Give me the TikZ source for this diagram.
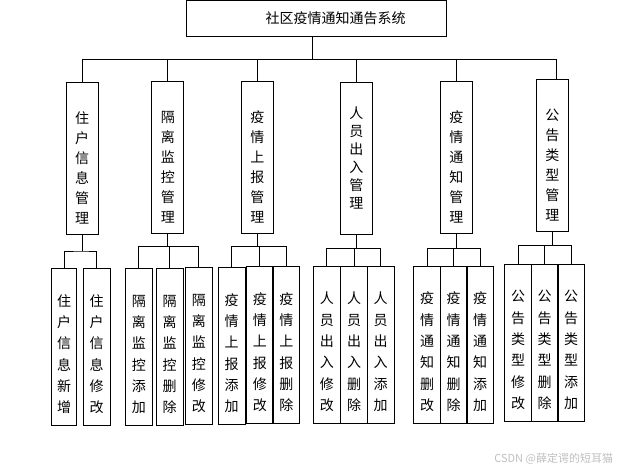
\documentclass[tikz,border=0pt]{standalone}
\usepackage{fontspec}
\setmainfont{Noto Sans CJK SC}
\begin{document}
\begin{tikzpicture}[x=1pt,y=-1pt,inner sep=0pt,outer sep=0pt,line width=1pt,
sysbox/.style={draw,rectangle,minimum width=260pt,minimum height=36pt,font=\fontsize{14}{16}\selectfont},
modblock/.style={draw,rectangle,anchor=north,align=center,minimum width=32pt,minimum height=152pt,
  font=\fontsize{14}{20}\selectfont},
leafblock/.style={draw,rectangle,anchor=north,align=center,minimum width=27pt,minimum height=157pt,
  font=\fontsize{14}{21.3}\selectfont}]

\useasboundingbox (0,0) rectangle (618,471);

\draw (316,18.5) node[sysbox] (sys) {\hspace*{39pt}社区疫情通知通告系统};

% module boxes, text set a little low as in the original
\draw (82,82) node[modblock] (m1) {\mbox{}\\[12pt]住\\户\\信\\息\\管\\理};
\draw (167.8,81.3) node[modblock] (m2) {\mbox{}\\[12pt]隔\\离\\监\\控\\管\\理};
\draw (257.3,81.3) node[modblock] (m3) {\mbox{}\\[12pt]疫\\情\\上\\报\\管\\理};
\draw (356.3,82.3) node[modblock,font=\fontsize{14}{18}\selectfont] (m4) {人\\员\\出\\入\\管\\理};
\draw (456.3,81.3) node[modblock] (m5) {\mbox{}\\[12pt]疫\\情\\通\\知\\管\\理};
\draw (552.3,79.3) node[modblock] (m6) {\mbox{}\\[12pt]公\\告\\类\\型\\管\\理};

\draw (64,268.3) node[leafblock,minimum width=25.4pt] (l1a) {\mbox{}\\[5pt]住\\户\\信\\息\\新\\增};
\draw (96.5,268.3) node[leafblock] (l1b) {\mbox{}\\[5pt]住\\户\\信\\息\\修\\改};
\draw (138.8,268.3) node[leafblock] (l2a) {\mbox{}\\[5pt]隔\\离\\监\\控\\添\\加};
\draw (169.5,268.3) node[leafblock] (l2b) {\mbox{}\\[5pt]隔\\离\\监\\控\\删\\除};
\draw (198.8,267.3) node[leafblock] (l2c) {\mbox{}\\[5pt]隔\\离\\监\\控\\修\\改};
\draw (231.5,267.3) node[leafblock] (l3a) {\mbox{}\\[5pt]疫\\情\\上\\报\\添\\加};
\draw (259.8,266.3) node[leafblock] (l3b) {\mbox{}\\[5pt]疫\\情\\上\\报\\修\\改};
\draw (286.3,266.3) node[leafblock] (l3c) {\mbox{}\\[5pt]疫\\情\\上\\报\\删\\除};
\draw (326.8,266) node[leafblock] (l4a) {\mbox{}\\[5pt]人\\员\\出\\入\\修\\改};
\draw (354,266) node[leafblock] (l4b) {\mbox{}\\[5pt]人\\员\\出\\入\\删\\除};
\draw (380.5,266) node[leafblock] (l4c) {\mbox{}\\[5pt]人\\员\\出\\入\\添\\加};
\draw (427.2,266) node[leafblock] (l5a) {\mbox{}\\[5pt]疫\\情\\通\\知\\删\\改};
\draw (453.5,266) node[leafblock] (l5b) {\mbox{}\\[5pt]疫\\情\\通\\知\\删\\除};
\draw (480,266) node[leafblock] (l5c) {\mbox{}\\[5pt]疫\\情\\通\\知\\添\\加};
\draw (518,264) node[leafblock] (l6a) {\mbox{}\\[5pt]公\\告\\类\\型\\修\\改};
\draw (544.7,264) node[leafblock] (l6b) {\mbox{}\\[5pt]公\\告\\类\\型\\删\\除};
\draw (571,264) node[leafblock] (l6c) {\mbox{}\\[5pt]公\\告\\类\\型\\添\\加};

\draw ([xshift=-4pt]sys.south) -- ++(0,22.5) coordinate (bus);
\draw (m1.north) -- (m1.north |- bus) -- ([xshift=4pt]m6.north |- bus) -- ([xshift=4pt]m6.north);
\draw (m2.north) -- (m2.north |- bus);
\draw (m3.north) -- (m3.north |- bus);
\draw (m4.north) -- (m4.north |- bus);
\draw (m5.north) -- (m5.north |- bus);

\draw (m1.south) -- ++(0,17) coordinate (h1);
\draw (l1a.north) |- (h1) -| (l1b.north);
\draw (m2.south) -- ++(0,13) coordinate (h2);
\draw (l2a.north) |- (h2) -| (l2c.north);
\draw (l2b.north) -- (l2b.north |- h2);
\draw (m3.south) -- ++(0,13) coordinate (h3);
\draw (l3a.north) |- (h3) -| (l3c.north);
\draw (l3b.north) -- (l3b.north |- h3);
\draw (m4.south) -- ++(0,14) coordinate (h4);
\draw (l4a.north) |- (h4) -| (l4c.north);
\draw (l4b.north) -- (l4b.north |- h4);
\draw (m5.south) -- ++(0,15) coordinate (h5);
\draw (l5a.north) |- (h5) -| (l5c.north);
\draw (l5b.north) -- (l5b.north |- h5);
\draw (m6.south) -- ++(0,14.5) coordinate (h6);
\draw (l6a.north) |- (h6) -| (l6c.north);
\draw (l6b.north) -- (l6b.north |- h6);

\draw (613,459) node[anchor=east,text=black!25,font=\fontsize{11}{11}\selectfont] (wm) {CSDN @薛定谔的短耳猫};
\end{tikzpicture}
\end{document}
